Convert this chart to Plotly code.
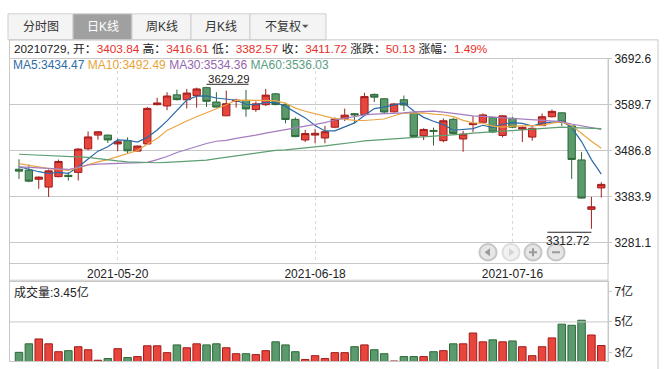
import plotly.graph_objects as go

W, H = 667, 369
FONT = "Liberation Sans, Noto Sans CJK SC, sans-serif"


def X(p):
    return p / W


def Y(p):
    return 1 - p / H


# ---------------- data ----------------
dates = [
    "2021-05-06", "2021-05-07", "2021-05-10", "2021-05-11", "2021-05-12", "2021-05-13", "2021-05-14",
    "2021-05-17", "2021-05-18", "2021-05-19", "2021-05-20", "2021-05-21", "2021-05-24", "2021-05-25",
    "2021-05-26", "2021-05-27", "2021-05-28", "2021-05-31", "2021-06-01", "2021-06-02", "2021-06-03",
    "2021-06-04", "2021-06-07", "2021-06-08", "2021-06-09", "2021-06-10", "2021-06-11", "2021-06-15",
    "2021-06-16", "2021-06-17", "2021-06-18", "2021-06-21", "2021-06-22", "2021-06-23", "2021-06-24",
    "2021-06-25", "2021-06-28", "2021-06-29", "2021-06-30", "2021-07-01", "2021-07-02", "2021-07-05",
    "2021-07-06", "2021-07-07", "2021-07-08", "2021-07-09", "2021-07-12", "2021-07-13", "2021-07-14",
    "2021-07-15", "2021-07-16", "2021-07-19", "2021-07-20", "2021-07-21", "2021-07-22", "2021-07-23",
    "2021-07-26", "2021-07-27", "2021-07-28", "2021-07-29",
]
opens = [3445.5, 3443.6, 3423.2, 3405.7, 3429.0, 3432.0, 3438.5, 3491.0, 3521.7, 3521.7,
         3502.0, 3509.3, 3486.0, 3502.0, 3589.6, 3586.7, 3611.5, 3600.6, 3610.1, 3627.6,
         3595.5, 3564.8, 3597.0, 3599.1, 3578.7, 3589.6, 3613.7, 3589.6, 3556.8, 3510.8,
         3521.7, 3515.2, 3539.3, 3559.0, 3569.5, 3567.7, 3612.5, 3602.8, 3573.6, 3600.6,
         3569.9, 3520.3, 3532.0, 3509.3, 3556.8, 3513.0, 3545.0, 3550.2, 3561.2, 3521.0,
         3559.0, 3534.9, 3517.3, 3542.9, 3562.6, 3571.4, 3542.2, 3466.3, 3356.1, 3403.84]
highs = [3467.7, 3456.0, 3429.5, 3445.0, 3467.0, 3438.5, 3493.0, 3529.8, 3530.5, 3522.5,
         3513.7, 3516.6, 3498.5, 3584.5, 3605.0, 3617.4, 3623.2, 3624.7, 3627.6, 3629.29,
         3617.4, 3621.0, 3602.8, 3622.5, 3596.9, 3624.7, 3615.9, 3594.0, 3561.2, 3533.4,
         3535.6, 3542.2, 3561.2, 3580.9, 3570.5, 3615.9, 3614.5, 3603.5, 3593.0, 3610.0,
         3573.6, 3537.0, 3538.5, 3559.0, 3560.4, 3531.2, 3564.0, 3569.9, 3562.6, 3566.3,
         3562.6, 3541.0, 3539.3, 3569.9, 3578.7, 3572.0, 3543.0, 3483.8, 3383.8, 3416.61]
lows = [3423.9, 3416.6, 3402.0, 3383.8, 3427.6, 3420.3, 3420.3, 3488.0, 3511.5, 3504.2,
        3486.0, 3480.1, 3485.5, 3500.0, 3588.0, 3577.2, 3599.1, 3580.9, 3583.0, 3584.5,
        3583.5, 3564.0, 3583.0, 3562.6, 3573.6, 3586.7, 3588.0, 3548.0, 3517.0, 3506.4,
        3503.5, 3503.5, 3537.0, 3553.1, 3548.0, 3567.0, 3595.5, 3570.0, 3572.0, 3575.8,
        3516.6, 3510.8, 3498.4, 3505.7, 3522.5, 3484.5, 3528.3, 3549.5, 3526.1, 3516.6,
        3537.0, 3506.4, 3509.3, 3542.2, 3561.2, 3542.2, 3423.9, 3380.0, 3312.72, 3382.57]
closes = [3441.3, 3418.9, 3428.0, 3441.9, 3462.8, 3429.5, 3490.4, 3517.6, 3529.0, 3511.0,
          3506.9, 3486.6, 3497.3, 3581.3, 3593.4, 3608.9, 3600.8, 3615.5, 3624.7, 3597.1,
          3584.2, 3591.8, 3599.5, 3580.1, 3591.4, 3610.9, 3589.8, 3556.6, 3518.3, 3525.1,
          3525.6, 3529.2, 3557.4, 3566.2, 3566.7, 3607.6, 3606.4, 3573.2, 3591.2, 3588.8,
          3518.8, 3534.3, 3530.3, 3553.7, 3525.5, 3524.1, 3547.8, 3566.8, 3528.5, 3564.6,
          3539.3, 3539.1, 3536.8, 3562.6, 3574.7, 3550.4, 3467.4, 3381.2, 3361.59, 3411.72]
# volume in 亿
volumes = [3.00, 3.56, 3.88, 3.56, 3.04, 3.11, 3.37, 3.17, 2.48, 2.59,
           3.24, 2.66, 2.72, 3.43, 3.43, 2.98, 3.49, 3.30, 3.56, 3.49,
           3.56, 3.30, 2.91, 2.91, 2.85, 3.11, 3.69, 3.49, 3.04, 2.53,
           2.78, 2.59, 2.98, 2.98, 3.37, 3.49, 3.17, 2.91, 2.43, 2.72,
           2.72, 2.72, 3.04, 3.11, 3.56, 3.56, 4.27, 3.69, 3.82, 3.69,
           3.75, 3.37, 2.78, 3.37, 3.95, 4.85, 4.78, 5.11, 4.14, 3.45]
ma5 = [3451.0, 3445.0, 3440.0, 3436.0, 3438.6, 3436.2, 3450.5, 3468.4, 3485.9, 3495.5,
       3511.0, 3510.2, 3506.2, 3516.6, 3533.1, 3553.5, 3576.3, 3600.0, 3608.7, 3609.4,
       3604.5, 3602.7, 3599.5, 3590.5, 3589.4, 3594.7, 3594.3, 3585.8, 3573.4, 3560.1,
       3543.1, 3531.0, 3531.1, 3540.7, 3549.0, 3565.4, 3580.9, 3584.0, 3589.0, 3593.4,
       3575.7, 3561.3, 3552.7, 3545.2, 3532.5, 3533.6, 3536.3, 3543.6, 3538.5, 3546.4,
       3549.4, 3547.7, 3541.7, 3548.5, 3550.5, 3552.7, 3538.4, 3507.3, 3467.1, 3434.47]
ma10 = [3458.0, 3454.0, 3450.0, 3447.0, 3445.0, 3443.0, 3449.0, 3456.0, 3462.0, 3467.0,
        3473.6, 3480.4, 3487.3, 3501.2, 3514.3, 3532.2, 3543.3, 3553.1, 3562.6, 3571.3,
        3579.0, 3589.5, 3599.7, 3599.6, 3599.4, 3599.6, 3598.5, 3592.6, 3582.0, 3574.8,
        3568.9, 3562.7, 3558.4, 3557.1, 3554.6, 3554.3, 3555.9, 3557.6, 3564.9, 3571.2,
        3570.6, 3571.1, 3568.4, 3567.1, 3563.0, 3554.6, 3548.8, 3548.1, 3541.9, 3539.4,
        3541.5, 3542.0, 3542.6, 3543.5, 3548.4, 3551.1, 3543.0, 3524.5, 3507.8, 3492.49]
ma30 = [3451.0, 3450.0, 3449.0, 3448.0, 3446.0, 3445.0, 3450.0, 3455.0, 3457.0, 3458.0,
        3459.0, 3459.5, 3460.0, 3461.0, 3467.0, 3474.0, 3483.0, 3490.0, 3497.0, 3503.0,
        3508.0, 3510.0, 3514.4, 3517.3, 3521.7, 3526.0, 3529.8, 3534.0, 3537.0, 3540.7,
        3544.4, 3549.5, 3555.3, 3559.7, 3563.3, 3567.0, 3568.4, 3569.2, 3569.9, 3571.4,
        3573.6, 3575.0, 3575.0, 3572.8, 3569.9, 3567.0, 3564.8, 3563.3, 3561.9, 3560.4,
        3559.0, 3557.5, 3556.0, 3554.6, 3553.8, 3551.7, 3546.5, 3542.9, 3539.3, 3534.36]
ma60 = [3479.0, 3478.0, 3477.0, 3477.0, 3476.0, 3475.0, 3474.0, 3472.0, 3469.0, 3466.0,
        3464.0, 3462.0, 3461.0, 3460.0, 3460.0, 3461.0, 3462.0, 3463.0, 3464.0, 3466.0,
        3469.0, 3472.0, 3475.7, 3479.4, 3482.3, 3485.2, 3487.4, 3488.9, 3491.0, 3493.3,
        3494.7, 3497.6, 3500.6, 3502.7, 3505.7, 3508.6, 3510.0, 3512.2, 3513.7, 3515.2,
        3516.6, 3518.1, 3518.8, 3521.0, 3522.5, 3523.9, 3526.1, 3527.6, 3529.8, 3531.2,
        3532.7, 3534.1, 3535.6, 3537.0, 3537.8, 3539.3, 3538.5, 3537.8, 3537.0, 3536.03]

price_ticks = [3281.1, 3383.9, 3486.8, 3589.7, 3692.6]
date_ticks = ["2021-05-20", "2021-06-18", "2021-07-16"]
vol_ticks = [3, 5, 7]
tabs = ["分时图", "日K线", "周K线", "月K线", "不复权"]
ma_names = ["MA5", "MA10", "MA30", "MA60"]

# ---------------- styles ----------------
RED, RED_LINE = "#e8453c", "#a11d1b"
GREEN, GREEN_LINE = "#5b9a6c", "#2d6838"
TXT_RED = "#e8302a"
GRID = "#c8c8c8"
ma_colors = ["#2b6aa8", "#eaa545", "#a47cc0", "#5d9e72"]
ma_text_colors = ["#2e6ca6", "#e8a33a", "#9466b0", "#5a9e80"]

fig = go.Figure()
fig.add_trace(go.Candlestick(
    x=dates, open=opens, high=highs, low=lows, close=closes,
    increasing=dict(line=dict(color=RED_LINE, width=1), fillcolor=RED),
    decreasing=dict(line=dict(color=GREEN_LINE, width=1), fillcolor=GREEN),
    whiskerwidth=0, hoverinfo="skip", xaxis="x", yaxis="y",
))
for vals, col in zip([ma5, ma10, ma30, ma60], ma_colors):
    fig.add_trace(go.Scatter(x=dates, y=vals, mode="lines", line=dict(color=col, width=1.2),
                             hoverinfo="skip", xaxis="x", yaxis="y"))

up = [c > o for o, c in zip(opens, closes)]
fig.add_trace(go.Bar(
    x=dates, y=volumes, xaxis="x2", yaxis="y2", width=0.76,
    marker=dict(color=[RED if u else GREEN for u in up],
                line=dict(color=[RED_LINE if u else GREEN_LINE for u in up], width=1)),
    hoverinfo="skip",
))

xr = [-0.912, len(dates) - 1 + 0.68]
tickfont = dict(family=FONT, size=12, color="#222")

fig.update_layout(
    width=W, height=H, margin=dict(l=0, r=0, t=0, b=0),
    paper_bgcolor="white", plot_bgcolor="white", showlegend=False,
    font=dict(family=FONT, size=12, color="#222"),
    boxgap=0.26, boxgroupgap=0,
    xaxis=dict(domain=[X(10), X(608)], anchor="y", type="category", range=xr,
               tickvals=date_ticks, ticktext=date_ticks, tickfont=tickfont,
               showgrid=True, gridcolor="#d9d9d9", griddash="3px,3px", gridwidth=1,
               showline=True, mirror=True, linecolor=GRID, ticks="",
               rangeslider=dict(visible=False), zeroline=False, fixedrange=True),
    yaxis=dict(domain=[Y(261), Y(52.5)], anchor="x", range=[3236.2, 3692.6], side="right",
               tickvals=price_ticks, ticktext=[f"{v:.1f}" for v in price_ticks], tickfont=tickfont,
               showgrid=True, gridcolor=GRID, showline=True, mirror=True, linecolor=GRID,
               ticks="outside", ticklen=3, tickcolor=GRID, zeroline=False, fixedrange=True),
    xaxis2=dict(domain=[X(10), X(608)], anchor="y2", type="category", range=xr,
                showticklabels=False, showgrid=False, showline=True, mirror=True,
                linecolor=GRID, ticks="", zeroline=False, fixedrange=True),
    yaxis2=dict(domain=[Y(361), Y(280)], anchor="x2", range=[2.42, 7.645], side="right",
                tickvals=vol_ticks, ticktext=[f"{v}亿" for v in vol_ticks], tickfont=tickfont,
                showgrid=False, showline=True, mirror=True, linecolor=GRID,
                ticks="outside", ticklen=3, tickcolor=GRID, zeroline=False, fixedrange=True),
)

shapes = []


def pline(x0, y0, x1, y1, color=GRID, width=1):
    shapes.append(dict(type="line", xref="paper", yref="paper", x0=X(x0), y0=Y(y0), x1=X(x1), y1=Y(y1),
                       line=dict(color=color, width=width)))


# tab bar
tab_edges = [8, 73, 132, 191, 250, 326]
for i, name in enumerate(tabs):
    active = i == 1
    shapes.append(dict(type="rect", xref="paper", yref="paper",
                       x0=X(tab_edges[i]), x1=X(tab_edges[i + 1]), y0=Y(33.5), y1=Y(7),
                       fillcolor="#a0a0a0" if active else "#f4f4f4", line=dict(color="#cfcfcf", width=1),
                       layer="below"))
# dropdown caret
shapes.append(dict(type="path", xref="paper", yref="paper",
                   path=f"M {X(302)},{Y(18)} L {X(308.5)},{Y(18)} L {X(305.25)},{Y(21.5)} Z",
                   fillcolor="#555", line=dict(width=0)))

# frame lines
pline(9, 33.5, 658, 33.5)
pline(658, 33.5, 658, 369)
pline(9.5, 33.5, 9.5, 361)
pline(608, 52.5, 608, 361)
pline(9.5, 278.5, 608, 278.5)

# 5亿 gridline in volume panel
shapes.append(dict(type="line", xref="x2 domain", yref="y2", x0=0, x1=1, y0=vol_ticks[1], y1=vol_ticks[1],
                   line=dict(color=GRID, width=1)))

# navigation buttons
btn_x = [488, 511, 533, 556]
by, r = 250, 8.5
for i, bx in enumerate(btn_x):
    dis = i == 1
    shapes.append(dict(type="circle", xref="paper", yref="paper",
                       x0=X(bx - r), x1=X(bx + r), y0=Y(by + r), y1=Y(by - r),
                       fillcolor="#f1f1f1" if dis else "#e6e6e6",
                       line=dict(color="#dedede" if dis else "#c6c6c6", width=2)))
g = "#9a9a9a"
shapes.append(dict(type="path", xref="paper", yref="paper",
                   path=f"M {X(484.5)},{Y(by)} L {X(490)},{Y(by - 4)} L {X(490)},{Y(by + 4)} Z",
                   fillcolor=g, line=dict(width=0)))
shapes.append(dict(type="path", xref="paper", yref="paper",
                   path=f"M {X(514.5)},{Y(by)} L {X(509)},{Y(by - 4)} L {X(509)},{Y(by + 4)} Z",
                   fillcolor="#d4d4d4", line=dict(width=0)))
pline(529, by, 537, by, g, 2)
pline(533, by - 4, 533, by + 4, g, 2)
pline(552, by, 560, by, g, 2)

# high / low markers
hi_i = max(range(len(highs)), key=lambda k: highs[k])
lo_i = min(range(len(lows)), key=lambda k: lows[k])
shapes.append(dict(type="line", xref="x", yref="y", xsizemode="pixel", ysizemode="pixel",
                   xanchor=hi_i, yanchor=highs[hi_i], x0=0, x1=42, y0=2.6, y1=2.6,
                   line=dict(color="#222", width=1)))
shapes.append(dict(type="line", xref="x", yref="y", xsizemode="pixel", ysizemode="pixel",
                   xanchor=lo_i, yanchor=lows[lo_i], x0=-44, x1=0, y0=-3.5, y1=-3.5,
                   line=dict(color="#222", width=1)))

anns = []
for i, name in enumerate(tabs):
    cx = (tab_edges[i] + tab_edges[i + 1]) / 2 - (5 if i == 4 else 0)
    anns.append(dict(xref="paper", yref="paper", x=X(cx), y=Y(20), text=name, showarrow=False,
                     xanchor="center", yanchor="middle",
                     font=dict(family=FONT, size=12, color="white" if i == 1 else "#333")))

chg = closes[-1] - closes[-2]
pct = chg / closes[-2] * 100


def rs(v):
    return f"<span style='color:{TXT_RED}'>{v}</span>"


info = (f"{dates[-1].replace('-', '')}, 开：{rs(f'{opens[-1]:.2f}')} 高：{rs(f'{highs[-1]:.2f}')} "
        f"低：{rs(f'{lows[-1]:.2f}')} 收：{rs(f'{closes[-1]:.2f}')} 涨跌：{rs(f'{chg:.2f}')} "
        f"涨幅：{rs(f'{pct:.2f}%')}")
anns.append(dict(xref="paper", yref="paper", x=X(12), y=Y(43), text=info, showarrow=False,
                 xanchor="left", yanchor="middle", font=dict(family=FONT, size=11.8, color="#222")))

ma_text = " ".join(f"<span style='color:{c}'>{n}:{v[-1]:.2f}</span>"
                   for n, v, c in zip(ma_names, [ma5, ma10, ma30, ma60], ma_text_colors))
anns.append(dict(xref="paper", yref="paper", x=X(12), y=Y(59.5), text=ma_text, showarrow=False,
                 xanchor="left", yanchor="middle", height=10, borderpad=0,
                 font=dict(family=FONT, size=12)))

anns.append(dict(xref="paper", yref="paper", x=X(12), y=Y(291), text=f"成交量:{volumes[-1]:.2f}亿",
                 showarrow=False, xanchor="left", yanchor="middle",
                 font=dict(family=FONT, size=12, color="#222")))

anns.append(dict(xref="x", yref="y", x=hi_i, y=highs[hi_i], text=f"{highs[hi_i]:.2f}", showarrow=False,
                 xanchor="left", yanchor="bottom", yshift=1.7, xshift=0, height=11, borderpad=0,
                 font=dict(family=FONT, size=11.5, color="#222")))
anns.append(dict(xref="x", yref="y", x=lo_i, y=lows[lo_i], text=f"{lows[lo_i]:.2f}", showarrow=False,
                 xanchor="right", yanchor="top", yshift=-3, xshift=1,
                 font=dict(family=FONT, size=12, color="#222")))

fig.update_layout(shapes=shapes, annotations=anns)
fig.write_html("out.html", config={"displayModeBar": False},
               post_script="document.body.style.margin='0';document.body.style.padding='0';")
